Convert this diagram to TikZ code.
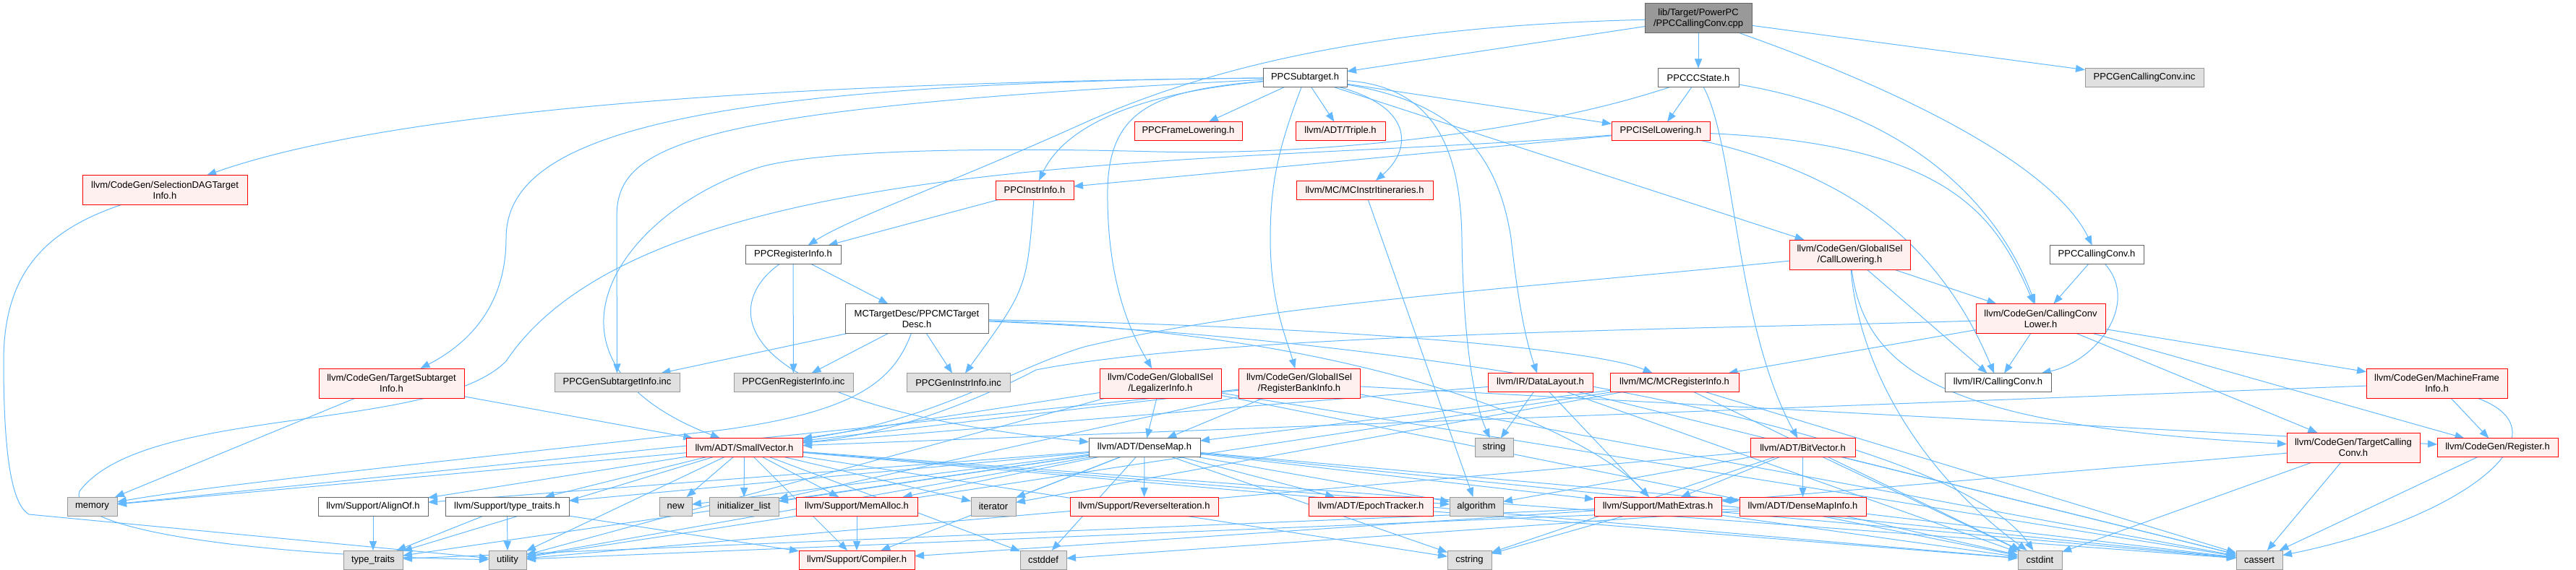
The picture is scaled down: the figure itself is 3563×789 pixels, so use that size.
\documentclass[tikz,border=0pt]{standalone}
\usepackage{fontspec}
\setmainfont{Liberation Sans}
\usetikzlibrary{arrows.meta,backgrounds}
\definecolor{eblue}{HTML}{63B8FF}
\definecolor{rdb}{HTML}{FF0000}
\definecolor{rdf}{HTML}{FFF0F0}
\definecolor{gyb}{HTML}{999999}
\definecolor{gyf}{HTML}{E0E0E0}
\definecolor{wtb}{HTML}{666666}
\definecolor{rtf}{HTML}{999999}
\tikzset{
 nb/.style={draw, rectangle, inner sep=0pt, outer sep=0pt, font=\fontsize{13}{15}\selectfont, align=center, line width=1pt, minimum height=26pt},
 rd/.style={nb, draw=rdb, fill=rdf},
 gy/.style={nb, draw=gyb, fill=gyf},
 wt/.style={nb, draw=wtb, fill=white},
 rt/.style={nb, draw=wtb, fill=rtf},
 mw/.style={minimum width=#1pt},
 tall/.style={minimum height=41pt},
 e/.style={draw=eblue, line width=1pt, -{Triangle[length=13pt,width=10pt]}},
}
\begin{document}
\begin{tikzpicture}[x=1pt,y=-1pt]
\useasboundingbox (0,0) rectangle (3563,789);
% row 0
\node[rt,mw=148,tall] (root) at (2349,25.5) {lib/Target/PowerPC\\/PPCCallingConv.cpp};
% row 1
\node[wt,mw=116] (sub) at (1805,107.5) {PPCSubtarget.h};
\node[wt,mw=112] (ccs) at (2349,107.5) {PPCCCState.h};
\node[gy,mw=164] (gcc) at (2966,107.5) {PPCGenCallingConv.inc};
% row 2
\node[rd,mw=149] (pfl) at (1643.5,181.5) {PPCFrameLowering.h};
\node[rd,mw=124] (tri) at (1854,181.5) {llvm/ADT/Triple.h};
\node[rd,mw=136] (isel) at (2297,181.5) {PPCISelLowering.h};
% row 3
\node[rd,mw=108] (pii) at (1431,263) {PPCInstrInfo.h};
\node[rd,mw=189] (mcii) at (1887.5,263) {llvm/MC/MCInstrItineraries.h};
\node[rd,mw=228,tall] (sdag) at (228,263) {llvm/CodeGen/SelectionDAGTarget\\Info.h};
% row 4
\node[wt,mw=132] (pri) at (1097,352.5) {PPCRegisterInfo.h};
\node[rd,mw=167,tall] (cl) at (2558.5,352.5) {llvm/CodeGen/GlobalISel\\/CallLowering.h};
\node[wt,mw=130] (pcc) at (2900,352.5) {PPCCallingConv.h};
% row 5
\node[wt,mw=198,tall] (mctd) at (1268,441) {MCTargetDesc/PPCMCTarget\\Desc.h};
\node[rd,mw=179,tall] (ccl) at (2822.5,441) {llvm/CodeGen/CallingConv\\Lower.h};
% row 6
\node[rd,mw=201,tall] (tsi) at (541.5,530.5) {llvm/CodeGen/TargetSubtarget\\Info.h};
\node[gy,mw=173] (gsi) at (853.5,529.5) {PPCGenSubtargetInfo.inc};
\node[gy,mw=165] (gri) at (1097.5,529.5) {PPCGenRegisterInfo.inc};
\node[gy,mw=143] (gii) at (1325.5,529.5) {PPCGenInstrInfo.inc};
\node[rd,mw=168,tall] (li) at (1605,530.5) {llvm/CodeGen/GlobalISel\\/LegalizerInfo.h};
\node[rd,mw=168,tall] (rbi) at (1797,530.5) {llvm/CodeGen/GlobalISel\\/RegisterBankInfo.h};
\node[rd,mw=145] (dl) at (2130.5,529.5) {llvm/IR/DataLayout.h};
\node[rd,mw=178] (mcri) at (2316,529.5) {llvm/MC/MCRegisterInfo.h};
\node[wt,mw=147] (irc) at (2763.5,529.5) {llvm/IR/CallingConv.h};
\node[rd,mw=195,tall] (mfi) at (3370.5,530.5) {llvm/CodeGen/MachineFrame\\Info.h};
% row 7
\node[rd,mw=161] (sv) at (1029.5,619.5) {llvm/ADT/SmallVector.h};
\node[wt,mw=154] (dm) at (1583,619.5) {llvm/ADT/DenseMap.h};
\node[gy,mw=53] (str) at (2066.5,619.5) {string};
\node[rd,mw=145] (bv) at (2493.5,619.5) {llvm/ADT/BitVector.h};
\node[rd,mw=184,tall] (tcc) at (3255,619.5) {llvm/CodeGen/TargetCalling\\Conv.h};
\node[rd,mw=167] (reg) at (3454.5,619.5) {llvm/CodeGen/Register.h};
% row 8
\node[gy,mw=69] (mem) at (127.5,701) {memory};
\node[wt,mw=152] (ao) at (516,701) {llvm/Support/AlignOf.h};
\node[wt,mw=171] (ltt) at (701.5,701) {llvm/Support/type\_traits.h};
\node[gy,mw=45] (new) at (934.5,701) {new};
\node[gy,mw=96] (il) at (1029,701) {initializer\_list};
\node[rd,mw=168] (ma) at (1185,701) {llvm/Support/MemAlloc.h};
\node[gy,mw=62] (it) at (1374,701) {iterator};
\node[rd,mw=205] (ri) at (1582.5,701) {llvm/Support/ReverseIteration.h};
\node[rd,mw=172] (et) at (1896,701) {llvm/ADT/EpochTracker.h};
\node[gy,mw=74] (alg) at (2042,701) {algorithm};
\node[rd,mw=176] (me) at (2293,701) {llvm/Support/MathExtras.h};
\node[rd,mw=175] (dmi) at (2493.5,701) {llvm/ADT/DenseMapInfo.h};
% row 9
\node[gy,mw=82] (tt) at (516,775) {type\_traits};
\node[gy,mw=52] (ut) at (702,775) {utility};
\node[rd,mw=160] (comp) at (1185,775) {llvm/Support/Compiler.h};
\node[gy,mw=64] (cdef) at (1443,775) {cstddef};
\node[gy,mw=61] (cstr) at (2032.5,775) {cstring};
\node[gy,mw=61] (cint) at (2821.5,775) {cstdint};
\node[gy,mw=64] (cas) at (3125,775) {cassert};

\begin{pgfonlayer}{background}
% root
\draw[e] (root) -- (sub);
\draw[e] (root) -- (ccs);
\draw[e] (root) -- (gcc);
\draw[e] (root) .. controls (2700,150) and (2850,250) .. (pcc);
\draw[e] (root) .. controls (1950,35) and (1700,80) .. (1500,170) .. controls (1300,260) and (1180,300) .. (pri);
% PPCCCState
\draw[e] (ccs) -- (isel);
\draw[e] (ccs) .. controls (2400,200) and (2400,450) .. (bv);
\draw[e] (ccs) .. controls (2660,160) and (2770,300) .. (ccl);
\draw[e] (ccs) .. controls (2100,190) and (1800,215) .. (1600,210) .. controls (1300,202) and (1100,212) .. (1040,235) .. controls (850,300) and (720,500) .. (sv);
% PPCSubtarget
\draw[e] (sub) -- (pfl);
\draw[e] (sub) -- (tri);
\draw[e] (sub) -- (isel);
\draw[e] (sub) -- (cl);
\draw[e] (sub) .. controls (1560,130) and (1470,180) .. (pii);
\draw[e] (sub) .. controls (1960,150) and (1950,210) .. (mcii);
\draw[e] (sub) .. controls (1000,115) and (520,160) .. (sdag);
\draw[e] (sub) .. controls (900,115) and (700,200) .. (700,330) .. controls (700,430) and (640,480) .. (tsi);
\draw[e] (sub) .. controls (950,150) and (853,200) .. (853,300) -- (gsi);
\draw[e] (sub) .. controls (1600,125) and (1535,150) .. (1532,260) .. controls (1530,400) and (1570,470) .. (li);
\draw[e] (sub) .. controls (1770,200) and (1757,250) .. (1757,330) .. controls (1757,420) and (1780,470) .. (rbi);
\draw[e] (sub) .. controls (2000,140) and (2070,200) .. (2090,330) .. controls (2100,420) and (2110,470) .. (dl);
\draw[e] (sub) .. controls (1980,120) and (2020,200) .. (2022,330) .. controls (2024,480) and (2040,560) .. (str);
% PPCISelLowering
\draw[e] (isel) -- (pii);
\draw[e] (isel) .. controls (2700,200) and (2760,300) .. (ccl);
\draw[e] (isel) .. controls (2550,240) and (2680,330) .. (irc);
\draw[e] (isel) .. controls (1700,230) and (900,200) .. (700,500) .. controls (600,600) and (200,560) .. (110,680) .. controls (90,740) and (400,770) .. (ut);
% PPCInstrInfo / PPCRegisterInfo
\draw[e] (pii) -- (pri);
\draw[e] (pii) .. controls (1420,400) .. (gii);
\draw[e] (pri) -- (mctd);
\draw[e] (pri) -- (gri);
\draw[e] (pri) .. controls (1000,420) and (990,560) .. (dm);
% PPCMCTargetDesc
\draw[e] (mctd) -- (gsi);
\draw[e] (mctd) -- (gri);
\draw[e] (mctd) -- (gii);
\draw[e] (mctd) .. controls (1800,450) and (2200,480) .. (mcri);
\draw[e] (mctd) .. controls (1900,460) and (2200,600) .. (me);
\draw[e] (mctd) .. controls (2000,470) and (2700,600) .. (cint);
\draw[e] (mctd) .. controls (1235,530) and (1180,570) .. (1000,595) .. controls (700,630) and (300,670) .. (mem);
% PPCCallingConv
\draw[e] (pcc) -- (ccl);
\draw[e] (pcc) .. controls (2960,420) and (2900,500) .. (irc);
% CallingConvLower
\draw[e] (ccl) .. controls (2400,455) and (1700,460) .. (1433,512) .. controls (1380,540) and (1250,600) .. (sv);
\draw[e] (ccl) -- (mcri);
\draw[e] (ccl) -- (irc);
\draw[e] (ccl) -- (mfi);
\draw[e] (ccl) -- (tcc);
\draw[e] (ccl) -- (reg);
% CallLowering
\draw[e] (cl) .. controls (2100,400) and (1750,420) .. (1500,480) .. controls (1400,510) and (1300,580) .. (sv);
\draw[e] (cl) -- (ccl);
\draw[e] (cl) -- (irc);
\draw[e] (cl) .. controls (2580,520) and (2700,590) .. (tcc);
\draw[e] (cl) .. controls (2570,500) and (2650,650) .. (cint);
% LegalizerInfo
\draw[e] (li) -- (dm);
\draw[e] (li) -- (sv);
\draw[e] (li) -- (cas);
\draw[e] (li) -- (cint);
\draw[e] (li) -- (ut);
% RegisterBankInfo
\draw[e] (rbi) -- (dm);
\draw[e] (rbi) -- (sv);
\draw[e] (rbi) -- (reg);
\draw[e] (rbi) -- (cas);
\draw[e] (rbi) -- (il);
\draw[e] (rbi) -- (mem);
% DataLayout
\draw[e] (dl) -- (sv);
\draw[e] (dl) -- (me);
\draw[e] (dl) -- (str);
\draw[e] (dl) -- (cas);
\draw[e] (dl) -- (cint);
% MCRegisterInfo
\draw[e] (mcri) -- (dm);
\draw[e] (mcri) -- (cas);
\draw[e] (mcri) -- (cint);
\draw[e] (mcri) -- (it);
\draw[e] (mcri) -- (ut);
% misc
\draw[e] (tsi) -- (sv);
\draw[e] (tsi) -- (mem);
\draw[e] (sdag) .. controls (60,320) and (5,380) .. (5,500) .. controls (5,650) and (20,700) .. (40,712) -- (ut);
\draw[e] (mfi) -- (sv);
\draw[e] (mfi) -- (reg);
\draw[e] (mfi) .. controls (3560,600) and (3400,720) .. (cas);
\draw[e] (tcc) -- (me);
\draw[e] (tcc) -- (cas);
\draw[e] (tcc) -- (cint);
\draw[e] (reg) -- (cas);
\draw[e] (mcii) -- (alg);
% SmallVector
\draw[e] (sv) -- (ao);
\draw[e] (sv) -- (ltt);
\draw[e] (sv) -- (new);
\draw[e] (sv) -- (il);
\draw[e] (sv) -- (ma);
\draw[e] (sv) -- (mem);
\draw[e] (sv) -- (tt);
\draw[e] (sv) -- (ut);
\draw[e] (sv) -- (comp);
\draw[e] (sv) -- (alg);
\draw[e] (sv) -- (cas);
\draw[e] (sv) -- (cdef);
\draw[e] (sv) -- (cint);
\draw[e] (sv) -- (cstr);
\draw[e] (sv) -- (it);
% DenseMap
\draw[e] (dm) -- (dmi);
\draw[e] (dm) -- (et);
\draw[e] (dm) -- (ao);
\draw[e] (dm) -- (comp);
\draw[e] (dm) -- (me);
\draw[e] (dm) -- (ma);
\draw[e] (dm) -- (ri);
\draw[e] (dm) -- (ltt);
\draw[e] (dm) -- (alg);
\draw[e] (dm) -- (cas);
\draw[e] (dm) -- (cdef);
\draw[e] (dm) -- (cstr);
\draw[e] (dm) -- (il);
\draw[e] (dm) -- (it);
\draw[e] (dm) -- (new);
\draw[e] (dm) -- (tt);
\draw[e] (dm) -- (ut);
% BitVector
\draw[e] (bv) -- (dmi);
\draw[e] (bv) -- (me);
\draw[e] (bv) -- (alg);
\draw[e] (bv) -- (cas);
\draw[e] (bv) -- (cint);
\draw[e] (bv) -- (cstr);
\draw[e] (bv) -- (ut);
% MathExtras
\draw[e] (me) -- (comp);
\draw[e] (me) -- (cas);
\draw[e] (me) -- (cint);
\draw[e] (me) -- (cstr);
\draw[e] (me) -- (tt);
% DenseMapInfo
\draw[e] (dmi) -- (cas);
\draw[e] (dmi) -- (cint);
\draw[e] (dmi) -- (ut);
\draw[e] (dmi) -- (cdef);
% small
\draw[e] (et) -- (cint);
\draw[e] (ma) -- (comp);
\draw[e] (ao) -- (tt);
\draw[e] (ltt) -- (tt);
\draw[e] (ltt) -- (ut);
\draw[e] (ltt) -- (comp);
\end{pgfonlayer}
\end{tikzpicture}
\end{document}
